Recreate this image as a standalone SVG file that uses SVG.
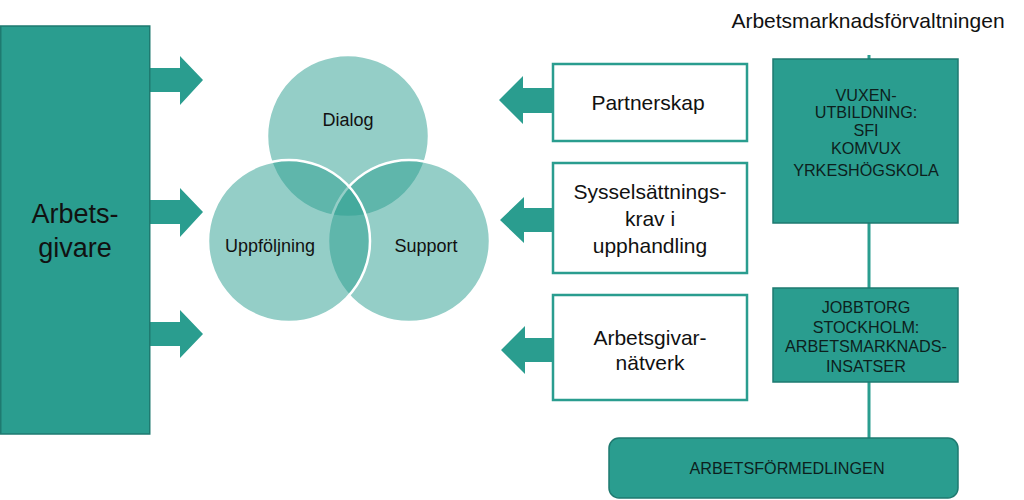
<svg xmlns="http://www.w3.org/2000/svg" width="1024" height="500" viewBox="0 0 1024 500">
<style>
.teal{fill:#2a9d8f;stroke:#1e7a70;stroke-width:1.5}
.wbox{fill:#ffffff;stroke:#2a9d8f;stroke-width:2.5}
.arr{fill:#2a9d8f}
.circ{fill:#2a9d8f;fill-opacity:0.5;stroke:#ffffff;stroke-width:2.5}
.t{font-family:"Liberation Sans",Arial,sans-serif;fill:#111111;text-anchor:middle}
.big{font-size:27px}
.mid{font-size:21px}
.ven{font-size:18px}
.cap{font-size:16.2px;fill:#0d1f1d}
.conn{stroke:#2a9d8f;stroke-width:3;fill:none}
</style>
<rect width="1024" height="500" fill="#ffffff"/>
<text class="t mid" x="868" y="28">Arbetsmarknadsförvaltningen</text>

<g id="connectors">
  <line class="conn" x1="869" y1="55" x2="869" y2="59"/>
  <line class="conn" x1="869" y1="223" x2="869" y2="288"/>
  <line class="conn" x1="869" y1="382" x2="869" y2="438"/>
  <polygon class="arr" points="150,68 180,68 180,56 203,80 180,105 180,92 150,92"/>
  <polygon class="arr" points="150,200 180,200 180,188 203,212 180,237 180,224 150,224"/>
  <polygon class="arr" points="150,322 180,322 180,310 203,334 180,358 180,346 150,346"/>
  <polygon class="arr" points="553,88 523,88 523,76 499,100 523,124 523,113 553,113"/>
  <polygon class="arr" points="553,208 524,208 524,197 500,220 524,243 524,232 553,232"/>
  <polygon class="arr" points="553,338 525,338 525,326 501,350 525,374 525,362 553,362"/>
</g>

<g id="arbetsgivare">
  <rect class="teal" x="0.75" y="26" width="149" height="408"/>
  <text class="t big" x="75" y="223">Arbets-</text>
  <text class="t big" x="75" y="257">givare</text>
</g>

<g id="venn">
  <circle class="circ" cx="348" cy="136" r="81"/>
  <circle class="circ" cx="409" cy="241" r="81"/>
  <circle class="circ" cx="289" cy="241" r="81"/>
  <text class="t ven" x="348" y="126">Dialog</text>
  <text class="t ven" x="270" y="252">Uppföljning</text>
  <text class="t ven" x="426" y="252">Support</text>
</g>

<g id="partnerskap">
  <rect class="wbox" x="553" y="64" width="194" height="77"/>
  <text class="t mid" x="648" y="110">Partnerskap</text>
</g>

<g id="sysselsattning">
  <rect class="wbox" x="553" y="163" width="194" height="110"/>
  <text class="t mid" x="650" y="199">Sysselsättnings-</text>
  <text class="t mid" x="650" y="226">krav i</text>
  <text class="t mid" x="650" y="253">upphandling</text>
</g>

<g id="natverk">
  <rect class="wbox" x="553" y="295" width="194" height="105"/>
  <text class="t mid" x="650" y="345">Arbetsgivar-</text>
  <text class="t mid" x="650" y="370">nätverk</text>
</g>

<g id="vuxen">
  <rect class="teal" x="773" y="59" width="185" height="164"/>
  <text class="t cap" x="866" y="101">VUXEN-</text>
  <text class="t cap" x="866" y="118">UTBILDNING:</text>
  <text class="t cap" x="866" y="136">SFI</text>
  <text class="t cap" x="866" y="154">KOMVUX</text>
  <text class="t cap" x="866" y="176">YRKESHÖGSKOLA</text>
</g>

<g id="jobbtorg">
  <rect class="teal" x="773" y="288" width="185" height="94"/>
  <text class="t cap" x="866" y="313">JOBBTORG</text>
  <text class="t cap" x="866" y="333">STOCKHOLM:</text>
  <text class="t cap" x="866" y="352">ARBETSMARKNADS-</text>
  <text class="t cap" x="866" y="372">INSATSER</text>
</g>

<g id="arbetsformedlingen">
  <rect class="teal" x="609" y="438" width="349" height="60" rx="10"/>
  <text class="t cap" x="787" y="474">ARBETSFÖRMEDLINGEN</text>
</g>
</svg>
